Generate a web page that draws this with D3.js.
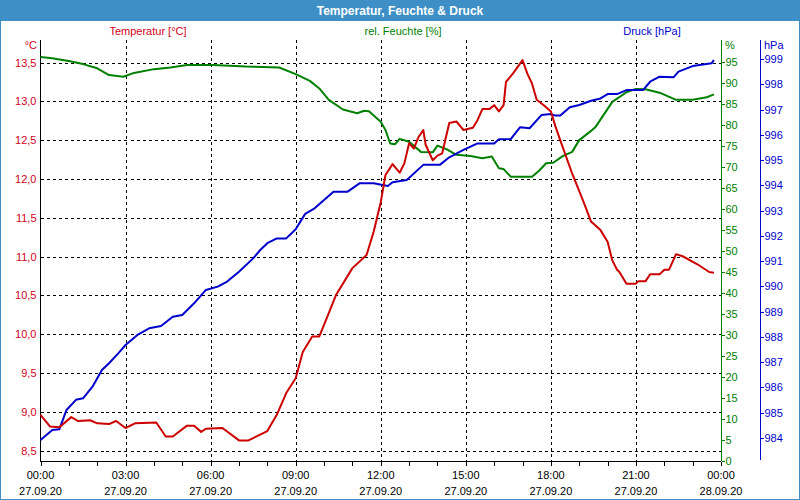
<!DOCTYPE html>
<html>
<head>
<meta charset="utf-8">
<script src="https://cdn.jsdelivr.net/npm/d3@7"></script>
<style>
  html, body { margin: 0; padding: 0; background: #ffffff; }
  svg { display: block; font-family: "Liberation Sans", Arial, sans-serif; }
</style>
</head>
<body>
<svg id="chart" width="800" height="500"></svg>
<script>
// ---------------- data ----------------
const chartTitle = "Temperatur, Feuchte & Druck";
const seriesNames = ["Temperatur [°C]", "rel. Feuchte [%]", "Druck [hPa]"];

const tempTimes = ["00:00","00:20","00:40","01:05","01:20","01:45","02:00","02:25","02:40","03:00","03:20","04:05","04:25","04:40","05:10","05:25","05:40","05:50","06:25","07:00","07:20","07:30","08:00","08:20","08:40","09:00","09:15","09:35","09:50","10:10","10:25","11:00","11:30","11:45","12:00","12:10","12:25","12:40","12:50","13:00","13:10","13:20","13:30","13:35","13:50","14:00","14:10","14:25","14:40","14:55","15:15","15:25","15:35","15:50","16:00","16:10","16:20","16:25","16:40","17:00","17:10","17:20","17:30","17:45","18:00","18:10","18:25","18:45","19:10","19:25","19:45","20:00","20:10","20:20","20:25","20:40","21:00","21:05","21:20","21:30","21:50","22:00","22:10","22:25","22:40","23:10","23:35","23:45"];
const tempValues = [8.96,8.81,8.80,8.93,8.88,8.89,8.85,8.84,8.88,8.79,8.85,8.86,8.68,8.68,8.82,8.82,8.74,8.78,8.79,8.63,8.63,8.66,8.75,8.96,9.24,9.43,9.77,9.97,9.97,10.27,10.50,10.85,11.02,11.32,11.70,12.05,12.19,12.08,12.20,12.46,12.39,12.54,12.63,12.44,12.24,12.30,12.33,12.72,12.74,12.63,12.66,12.76,12.90,12.90,12.95,12.87,12.95,13.25,13.36,13.53,13.36,13.23,13.02,12.95,12.87,12.67,12.41,12.07,11.69,11.45,11.34,11.19,10.95,10.83,10.80,10.65,10.65,10.68,10.68,10.77,10.77,10.83,10.83,11.03,11.00,10.90,10.80,10.79];

const humTimes = ["00:00","00:25","01:05","01:30","02:00","02:25","02:55","03:15","04:00","04:35","05:10","06:05","07:15","08:25","09:00","09:30","09:50","10:10","10:40","11:10","11:25","11:35","12:00","12:10","12:20","12:30","12:40","13:00","13:25","13:50","14:00","14:20","14:40","15:10","15:35","15:55","16:10","16:20","16:35","17:20","17:35","17:50","18:05","18:25","18:45","19:00","19:25","19:35","20:10","20:40","21:00","21:20","21:50","22:25","23:00","23:30","23:45"];
const humValues = [96.2,95.9,95.1,94.5,93.5,91.9,91.5,92.3,93.3,93.7,94.3,94.3,93.9,93.7,92.1,90.5,88.7,86.0,83.7,82.8,83.4,83.3,80.8,78.8,75.6,75.4,76.7,76.0,73.6,73.5,75.1,74.2,72.9,72.6,72.1,72.5,69.7,69.5,67.7,67.7,69.1,70.9,71.0,72.6,73.6,76.4,78.6,79.6,85.5,87.8,88.6,88.5,87.7,86.0,86.0,86.6,87.3];

const presTimes = ["00:00","00:25","00:40","00:55","01:15","01:30","01:50","02:10","02:25","02:45","03:00","03:25","03:50","04:15","04:40","05:00","05:25","05:50","06:15","06:35","07:00","07:30","07:45","08:00","08:20","08:40","09:00","09:20","09:40","10:00","10:20","10:50","11:15","11:45","12:15","12:25","12:55","13:30","14:05","14:25","14:55","15:25","16:00","16:10","16:35","16:55","17:15","17:40","18:00","18:10","18:20","18:40","19:00","19:25","19:45","20:00","20:20","20:40","21:15","21:30","21:50","22:20","22:30","23:00","23:40","23:45"];
const presValues = [983.92,984.32,984.35,985.11,985.51,985.57,986.03,986.69,986.96,987.36,987.68,988.08,988.34,988.43,988.80,988.87,989.33,989.86,989.99,990.19,990.58,991.11,991.44,991.71,991.90,991.90,992.26,992.87,993.09,993.42,993.75,993.75,994.08,994.08,993.97,994.12,994.21,994.81,994.81,995.11,995.40,995.66,995.66,995.82,995.83,996.30,996.26,996.78,996.82,996.76,996.76,997.09,997.18,997.35,997.44,997.61,997.61,997.77,997.77,998.10,998.30,998.28,998.50,998.72,998.83,998.96];

const tempTicks = [8.5,9.0,9.5,10.0,10.5,11.0,11.5,12.0,12.5,13.0,13.5];
const humTicks = [0,5,10,15,20,25,30,35,40,45,50,55,60,65,70,75,80,85,90,95];
const presTicks = [984,985,986,987,988,989,990,991,992,993,994,995,996,997,998,999];
const xTickTimes = ["2020-09-27T00:00","2020-09-27T03:00","2020-09-27T06:00","2020-09-27T09:00","2020-09-27T12:00","2020-09-27T15:00","2020-09-27T18:00","2020-09-27T21:00","2020-09-28T00:00"];
const xTimeLabels = ["00:00","03:00","06:00","09:00","12:00","15:00","18:00","21:00","00:00"];
const xDateLabels = ["27.09.20","27.09.20","27.09.20","27.09.20","27.09.20","27.09.20","27.09.20","27.09.20","28.09.20"];

// ---------------- styles ----------------
const C = {
  frame: "#3d8fc6",
  red: "#cc0000", redText: "#d4001c",
  green: "#008000",
  blue: "#0000cc"
};

const svg = d3.select("#chart");
const W = 800, H = 500;
const L = 40.5, R = 721, T = 40, B = 461;

const parseHM = d3.timeParse("%Y-%m-%d %H:%M");
const toDate = s => parseHM("2020-09-27 " + s);
const parseISO = d3.timeParse("%Y-%m-%dT%H:%M");

const x = d3.scaleTime().domain([parseISO("2020-09-27T00:00"), parseISO("2020-09-28T00:00")]).range([L, R]);
const yT = d3.scaleLinear().domain([8.5, 13.5]).range([450.5, 62.5]);
const yH = d3.scaleLinear().domain([0, 100]).range([B, 41]);
const yP = d3.scaleLinear().domain([984, 999]).range([438, 59]);

const de = d3.formatLocale({decimal: ",", thousands: ".", grouping: [3], currency: ["", " €"]});
const fmtT = de.format(".1f");

// background & frame
svg.append("rect").attr("x", 0).attr("y", 0).attr("width", W).attr("height", H).attr("fill", "#ffffff");
svg.append("rect").attr("x", 0.5).attr("y", 0.5).attr("width", W - 1).attr("height", H - 1)
  .attr("fill", "none").attr("stroke", C.frame).attr("stroke-width", 1);
svg.append("rect").attr("x", 0).attr("y", 0).attr("width", W).attr("height", 21).attr("fill", C.frame);
svg.append("text").attr("x", W / 2).attr("y", 15).attr("text-anchor", "middle")
  .attr("fill", "#ffffff").attr("font-weight", "bold").attr("font-size", "12px").text(chartTitle);

// series labels
const labelXs = [148, 403, 652];
const labelCols = [C.redText, C.green, C.blue];
seriesNames.forEach((n, i) => {
  svg.append("text").attr("x", labelXs[i]).attr("y", 35).attr("text-anchor", "middle")
    .attr("fill", labelCols[i]).attr("font-size", "11px").text(n);
});

// gridlines
const grid = svg.append("g").attr("stroke", "#000").attr("stroke-dasharray", "3,3").attr("stroke-width", 1).attr("shape-rendering", "crispEdges");
tempTicks.forEach(v => {
  grid.append("line").attr("x1", L).attr("x2", R).attr("y1", Math.round(yT(v)) + 0.5).attr("y2", Math.round(yT(v)) + 0.5);
});
xTickTimes.slice(1, -1).forEach(s => {
  const xx = Math.round(x(parseISO(s))) + 0.5;
  grid.append("line").attr("x1", xx).attr("x2", xx).attr("y1", T).attr("y2", B);
});

// left axis (temperature)
const gL = svg.append("g").attr("transform", `translate(${L},0)`)
  .call(d3.axisLeft(yT).tickValues(tempTicks).tickSize(0).tickPadding(4).tickFormat(fmtT));
gL.select(".domain").remove();
gL.selectAll("text").attr("fill", C.redText).attr("font-size", "11px").attr("font-family", "Liberation Sans, Arial, sans-serif");
svg.append("line").attr("x1", 40.5).attr("x2", 40.5).attr("y1", T).attr("y2", B + 0.5).attr("stroke", "#000").attr("shape-rendering", "crispEdges");
svg.append("text").attr("x", 37).attr("y", 49).attr("text-anchor", "end").attr("fill", C.redText).attr("font-size", "11px").text("°C");

// bottom axis
const gB = svg.append("g").attr("transform", `translate(0,${B + 0.5})`)
  .call(d3.axisBottom(x).ticks(d3.timeHour.every(1)).tickSize(4).tickFormat(""));
gB.select(".domain").attr("d", `M${L},0H${R}`);
gB.selectAll("line, path").attr("stroke", "#000").attr("shape-rendering", "crispEdges");
xTickTimes.forEach((s, i) => {
  const xx = x(parseISO(s));
  svg.append("text").attr("x", xx).attr("y", 479).attr("text-anchor", "middle").attr("fill", "#000").attr("font-size", "11px").text(xTimeLabels[i]);
  svg.append("text").attr("x", xx).attr("y", 495).attr("text-anchor", "middle").attr("fill", "#000").attr("font-size", "11px").text(xDateLabels[i]);
});

// right green axis (humidity)
const gH = svg.append("g").attr("transform", `translate(${R + 0.5},0)`)
  .call(d3.axisRight(yH).tickValues(humTicks).tickSize(3).tickPadding(1).tickFormat(d3.format("d")));
gH.select(".domain").attr("d", `M0,${T}V${B}`);
gH.selectAll("line, path").attr("stroke", C.green).attr("shape-rendering", "crispEdges");
gH.selectAll("text").attr("fill", C.green).attr("font-size", "11px").attr("font-family", "Liberation Sans, Arial, sans-serif");
svg.append("text").attr("x", 725).attr("y", 49).attr("fill", C.green).attr("font-size", "11px").text("%");

// right blue axis (pressure)
const gP = svg.append("g").attr("transform", `translate(760.5,0)`)
  .call(d3.axisRight(yP).tickValues(presTicks).tickSize(3).tickPadding(1).tickFormat(d3.format("d")));
gP.select(".domain").attr("d", `M0,${T}V460`);
gP.selectAll("line, path").attr("stroke", C.blue).attr("shape-rendering", "crispEdges");
gP.selectAll("text").attr("fill", C.blue).attr("font-size", "11px").attr("font-family", "Liberation Sans, Arial, sans-serif");
svg.append("text").attr("x", 764).attr("y", 49).attr("fill", C.blue).attr("font-size", "11px").text("hPa");

// lines
function drawLine(times, values, scale, color) {
  const pts = times.map((t, i) => [toDate(t), values[i]]);
  const line = d3.line().x(d => x(d[0])).y(d => scale(d[1]));
  svg.append("path").datum(pts).attr("d", line).attr("fill", "none")
    .attr("stroke", color).attr("stroke-width", 2).attr("stroke-linejoin", "round");
}
drawLine(humTimes, humValues, yH, C.green);
drawLine(presTimes, presValues, yP, C.blue);
drawLine(tempTimes, tempValues, yT, C.red);
</script>
</body>
</html>
